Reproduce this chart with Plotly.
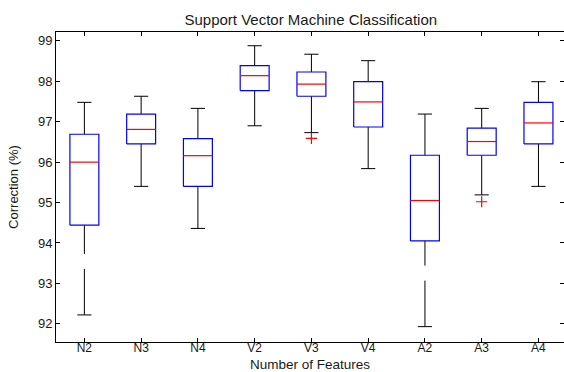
import plotly.graph_objects as go

categories = ["N2", "N3", "N4", "V2", "V3", "V4", "A2", "A3", "A4"]
upper_whisker = [97.48, 97.63, 97.33, 98.88, 98.67, 98.51, 97.19, 97.33, 97.99]
q3 = [96.69, 97.19, 96.58, 98.39, 98.23, 97.99, 96.17, 96.84, 97.48]
median = [96.00, 96.81, 96.16, 98.14, 97.93, 97.49, 95.05, 96.51, 96.97]
q1 = [94.44, 96.45, 95.40, 97.77, 97.63, 96.87, 94.05, 96.17, 96.45]
lower_whisker = [92.22, 95.40, 94.36, 96.90, 96.73, 95.84, 91.93, 95.19, 95.40]
outlier_cat = ["V3", "A3"]
outlier_val = [96.59, 95.02]

y_ticks = [92, 93, 94, 95, 96, 97, 98, 99]

BOX_HW = 0.255
CAP_HW = 0.125
FONT = "Liberation Sans, Arial, sans-serif"

pos = {c: i + 1 for i, c in enumerate(categories)}

fig = go.Figure()

# whiskers (drawn from cap toward box so the dash pattern matches)
for c, lo, a, b, hi in zip(categories, lower_whisker, q1, q3, upper_whisker):
    x = pos[c]
    for y0, y1 in ((lo, a), (hi, b)):
        fig.add_trace(go.Scatter(x=[x, x], y=[y0, y1], mode="lines",
                                 line=dict(color="#000000", width=1, dash="46px,15px"),
                                 hoverinfo="skip", showlegend=False))

# caps
cx, cy = [], []
for c, lo, hi in zip(categories, lower_whisker, upper_whisker):
    x = pos[c]
    for v in (lo, hi):
        cx += [x - CAP_HW, x + CAP_HW, None]
        cy += [v, v, None]
fig.add_trace(go.Scatter(x=cx, y=cy, mode="lines", line=dict(color="#000000", width=1),
                         hoverinfo="skip", showlegend=False))

# boxes
bx, by = [], []
for c, a, b in zip(categories, q1, q3):
    x = pos[c]
    bx += [x - BOX_HW, x + BOX_HW, x + BOX_HW, x - BOX_HW, x - BOX_HW, None]
    by += [a, a, b, b, a, None]
fig.add_trace(go.Scatter(x=bx, y=by, mode="lines", line=dict(color="#0000ff", width=1.2),
                         hoverinfo="skip", showlegend=False))

# medians
mx, my = [], []
for c, m in zip(categories, median):
    x = pos[c]
    mx += [x - BOX_HW, x + BOX_HW, None]
    my += [m, m, None]
fig.add_trace(go.Scatter(x=mx, y=my, mode="lines", line=dict(color="#ff0000", width=1.2),
                         hoverinfo="skip", showlegend=False))

# outliers
fig.add_trace(go.Scatter(x=[pos[c] for c in outlier_cat], y=outlier_val, mode="markers",
                         marker=dict(symbol="cross-thin", size=8,
                                     line=dict(color="#ff0000", width=1.2)),
                         hoverinfo="skip", showlegend=False))

fig.update_layout(
    width=564, height=372,
    margin=dict(l=56, r=0, t=32, b=30),
    paper_bgcolor="white", plot_bgcolor="white",
    font=dict(family=FONT, size=13, color="#1a1a1a"),
    title=dict(text="Support Vector Machine Classification", x=0.551, xanchor="center",
               y=0.948, yanchor="middle", font=dict(family=FONT, size=15, color="#1a1a1a")),
    showlegend=False,
    annotations=[dict(text="Number of Features", xref="paper", yref="paper",
                      x=0.5, y=-0.072, xanchor="center", yanchor="middle",
                      showarrow=False, borderpad=0,
                      font=dict(family=FONT, size=13.5, color="#1a1a1a"))],
)
fig.update_xaxes(
    range=[0.5, 9.45], tickmode="array", tickvals=[pos[c] for c in categories],
    ticktext=categories, ticks="inside", ticklen=4, tickcolor="#000000",
    showline=True, linecolor="#000000", linewidth=1, mirror="ticks",
    showgrid=False, zeroline=False, ticklabelstandoff=-5,
    tickfont=dict(size=12),
)
fig.update_yaxes(
    range=[91.55, 99.22], tickmode="array", tickvals=y_ticks,
    ticks="inside", ticklen=4, tickcolor="#000000",
    showline=True, linecolor="#000000", linewidth=1, mirror="ticks",
    showgrid=False, zeroline=False,
    title=dict(text="Correction (%)", standoff=16, font=dict(size=13)),
    tickfont=dict(size=13),
)

fig.write_html("out.html")
